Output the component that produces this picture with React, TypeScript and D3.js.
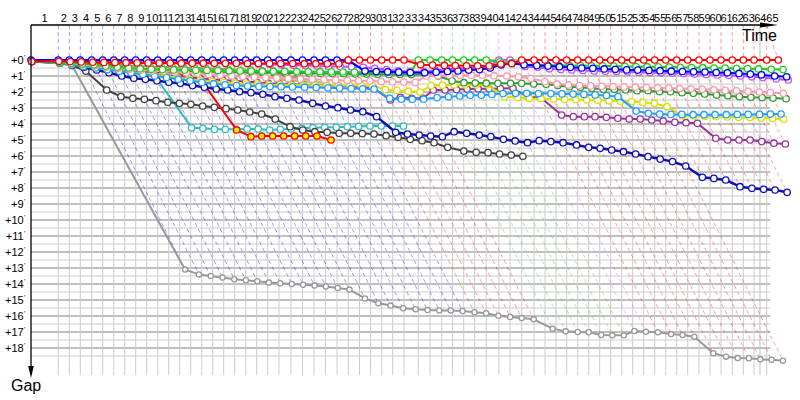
import React from "react";
import * as d3 from "d3";

// Leader crossing time (minutes from start) for each lap, index = lap
const lapTimes = [
  0, 3.41, 4.79, 6.16, 7.59, 8.96, 10.34, 11.71, 13.09, 14.46, 15.84,
  17.21, 18.59, 19.96, 21.34, 22.71, 24.09, 25.46, 26.84, 28.21, 29.59,
  31.0, 32.5, 33.94, 35.38, 36.81, 38.25, 39.66, 41.06, 42.44, 43.84,
  45.21, 46.63, 48.41, 49.88, 51.34, 52.69, 54.09, 55.46, 56.9, 58.48,
  59.88, 61.34, 62.88, 64.25, 65.63, 66.96, 68.34, 69.71, 71.09, 72.46,
  73.84, 75.21, 76.59, 77.96, 79.34, 80.71, 82.09, 83.5, 84.88, 86.25,
  87.66, 89.04, 90.38, 91.96, 93.41,
];
const lapLabels = [
  "1","2","3","4","5","6","7","8","9","10","11","12","13","14","15","16","17","18","19","20",
  "21","22","23","24","25","26","27","28","29","30","31","32","33","34","35","36","37","38","39","40",
  "41","42","43","44","45","46","47","48","49","50","51","52","53","54","55","56","57","58","59","60",
  "61","62","63","64","65",
];
const gapTicks = [0,1,2,3,4,5,6,7,8,9,10,11,12,13,14,15,16,17,18];
const timeLimit = 91.12;

// gap to leader (minutes) at each completed lap, index = lap
const gapsBlue = [0, 0,0,0,0,0, 0,0,0,0,0, 0,0,0,0,0, 0,0,0,0,0, 0,0,0,0,0, 0,0.02,0.69,0.72,0.74, 0.76,0.78,0.8,0.76,0.72, 0.68,0.63,0.6,0.5,0.3, 0.22,0.3,0.35,0.38,0.42, 0.46,0.5,0.52,0.56,0.58, 0.62,0.63,0.65,0.67,0.7, 0.72,0.74,0.75,0.78,0.8, 0.84,0.88,0.93,1.0,1.05];
const gapsRed = [0.1, 0.08,0.1,0.12,0.14,0.15, 0.16,0.17,0.18,0.18,0.19, 0.19,0.2,0.2,0.2,0.21, 0.21,0.21,0.22,0.22,0.22, 0.22,0.22,0.23,0.23,0.24, 0.24,0,0,0,0, 0,0,0.3,0.32,0.34, 0.35,0.36,0.36,0.37,0.25, 0.22,0,0,0,0, 0,0,0,0,0, 0,0,0,0,0, 0,0,0,0,0, 0,0,0,0,0];
const gapsGreen = [0.1, 0.15,0.2,0.25,0.3,0.38, 0.45,0.5,0.55,0.58,0.6, 0.62,0.63,0.64,0.65,0.66, 0.67,0.68,0.69,0.7,0.7, 0.71,0.72,0.72,0.73,0.74, 0.75,0.76,0.77,0.78,0.78, 0.79,0.8,0,0,0, 0,0,0,0,0.12, 0.18,0.28,0.3,0.32,0.33, 0.34,0.35,0.36,0.37,0.38, 0.4,0.41,0.42,0.43,0.44, 0.46,0.47,0.48,0.5,0.51, 0.53,0.54,0.56,0.58,0.6];
const gapsViolet = [0.1, 0.08,0.09,0.1,0.1,0.11, 0.11,0.12,0.12,0.13,0.13, 0.14,0.14,0.15,0.15,0.16, 0.17,0.19,0.22,0.25,0.28, 0.3,0.33,0.35,0.37,0.39, 0.4,0.42,0.46,0.52,0.6, 0.68,0.72,0.73,0.65,0.6, 0.55,0.5,0.45,0.4,0, 0,0.4,0.45,0.55,0.6, 0.62,0.65,0.68,0.7,0.72, 0.74,0.76,0.78,0.8,0.82, 0.85,0.88,0.9,0.93,0.96, 1.0,1.05,1.1,1.18,1.25];
const gapsPink = [0.1, 0.15,0.22,0.3,0.38,0.45, 0.52,0.58,0.63,0.67,0.71, 0.75,0.8,0.85,0.9,0.95, 1.0,1.04,1.07,1.1,1.13, 1.16,1.19,1.21,1.24,1.26, 1.28,1.3,1.32,1.34,1.36, 1.38,1.4,1.0,0.98,0.96, 0.95,0.95,0.96,0.98,1.0, 1.05,1.15,1.35,1.5,1.56, 1.6,1.62,1.64,1.66,1.68, 1.7,1.72,1.74,1.76,1.78, 1.8,1.83,1.86,1.9,1.93, 1.96,2.0,2.04,2.08];
const gapsDarkGreen = [0.1, 0.15,0.2,0.28,0.35,0.42, 0.5,0.55,0.6,0.64,0.68, 0.7,0.72,0.74,0.75,0.76, 0.77,0.78,0.79,0.8,0.8, 0.81,0.82,0.83,0.84,0.85, 0.86,0.87,0.88,0.89,0.9, 0.9,0.91,0.92,1.0,1.3, 1.42,1.44,1.45,1.46,1.46, 1.46,1.5,1.52,1.6,1.67, 1.71,1.77,1.83,1.83,1.87, 1.92,1.92,1.98,1.98,2.04, 2.08,2.12,2.19,2.23,2.29, 2.33,2.35,2.38,2.42];
const gapsSky = [0.1, 0.2,0.3,0.4,0.5,0.6, 0.7,0.8,0.9,1.0,1.1, 1.2,1.3,1.4,1.48,1.55, 1.6,1.63,1.65,1.66,1.67, 1.68,1.7,1.72,1.74,1.76, 1.78,1.8,1.82,2.4,2.45, 2.45,2.45,2.35,2.3,2.25, 2.2,2.2,2.15,2.1,2.08, 2.08,2.1,2.1,2.12,2.13, 2.15,2.18,2.22,2.29,3.19, 3.33,3.38,3.4,3.4,3.42, 3.42,3.42,3.42,3.4,3.4, 3.4,3.38,3.375];
const gapsYellow = [0.1, 0.15,0.25,0.35,0.45,0.55, 0.65,0.75,0.85,0.92,1.0, 1.1,1.2,1.28,1.35,1.4, 1.45,1.5,1.52,1.55,1.56, 1.57,1.58,1.58,1.59,1.6, 1.6,1.6,1.6,1.85,1.9, 1.95,2.0,1.6,1.58,1.56, 1.56,1.56,1.55,2.29,2.35, 2.4,2.42,2.44,2.46,2.48, 2.5,2.52,2.55,2.58,2.6, 2.65,2.7,2.92,3.48,3.5, 3.52,3.54,3.56,3.58,3.6, 3.62,3.65,3.7];
const gapsPurple = [0.1, 0.15,0.25,0.35,0.45,0.55, 0.65,0.72,0.8,0.88,0.95, 1.02,1.08,1.14,1.2,1.25, 1.3,1.35,1.4,1.45,1.5, 1.52,1.55,1.58,1.6,1.63, 1.66,1.7,1.77,2.5,2.33, 2.39,2.39,1.875,1.875,1.85, 1.82,1.8,1.8,1.78,1.77, 2.33,2.33,3.44,3.54,3.54, 3.54,3.58,3.64,3.69,3.69, 3.75,3.81,3.89,3.92,3.96, 4.89,5.0,5.0,5.0,5.1, 5.2,5.25];
const gapsNavy = [0.1, 0.12,0.25,0.45,0.625,0.79, 1.0,1.14,1.21,1.29,1.39, 1.46,1.6,1.71,1.81,1.875, 1.98,2.04,2.14,2.29,2.39, 2.5,2.71,2.875,2.98,3.125, 3.23,3.54,4.52,4.625,4.69, 4.75,4.79,4.48,4.58,4.69, 4.79,4.96,5.06,5.17,5.04, 5.1,5.17,5.31,5.46,5.52, 5.625,5.73,5.875,6.04,6.19, 6.35,6.625,7.33,7.4,7.5, 7.92,8.02,8.08,8.125,8.27];
const gapsBlack = [0.1, 0.2,0.35,0.69,1.875,2.29, 2.39,2.46,2.54,2.64,2.71, 2.77,2.875,2.96,3.04,3.125, 3.25,3.375,3.69,4.17,4.375, 4.48,4.52,4.58,4.58,4.6, 4.625,4.73,4.83,4.96,5.04, 5.17,5.46,5.69,5.77,5.79, 5.875,5.94,6.02];
const gapsCyan = [0.1, 0.15,0.25,0.35,0.45,0.55, 0.65,0.75,0.85,0.94,4.23, 4.27,4.33,4.33,4.33,4.31, 4.31,4.375,4.33,4.31,4.27, 4.23,4.21,4.21,4.17,4.15, 4.125,4.125,4.125,4.125];
const gapsRedYellow = [0.1, 0.17,0.17,0.17,0.2,0.25, 0.31,0.67,0.69,0.73,0.77, 0.79,1.08,1.2,4.375,4.79, 4.75,4.75,4.75,4.75,4.75, 4.75,5.0];
const gapsGray = [0.1, 0.12,0.35,13.1,13.4,13.5, 13.6,13.7,13.77,13.83,13.9, 13.95,14.0,14.05,14.1,14.15, 14.25,14.35,14.9,15.2,15.35, 15.52,15.58,15.63,15.65,15.65, 15.69,15.77,15.83,15.98,16.06, 16.13,16.21,16.79,16.96,17.0, 17.02,17.19,17.21,17.21,16.94, 16.98,17.02,17.13,17.19,17.29, 18.33,18.54,18.63,18.64,18.71, 18.73,18.79];
const gapsOlive = [0.1, 0.1,0.12,0.15,0.2,0.25, 0.3,0.35,0.38,0.4,0.43, 0.45,0.48,0.5,0.52,0.55, 0.58,0.6,0.62,0.7,0.85, 1.0,1.15,1.25];
const gapsLime = [0.1, 0.1,0.1,0.1,0.1,0.1, 0.1,0.1,0.1,0.1,0.11, 0.11,0.12,0.12,0.13,0.14, 0.15,0.4,0.8,1.05,1.2, 1.28,1.33,1.37,1.4];

const cars = [
  { name: "gray", color: "#999999", fill: "#ffffff", r: 2.6, w: 2, gaps: gapsGray },
  { name: "olive", color: "#a09868", fill: "#ffffff", r: 3.2, w: 2, gaps: gapsOlive },
  { name: "lime", color: "#9acd5a", fill: "#ffffff", r: 3.2, w: 2, gaps: gapsLime },
  { name: "cyan", color: "#33bbbb", fill: "#ffffff", r: 3.2, w: 2, gaps: gapsCyan },
  { name: "black", color: "#404040", fill: "#ffffff", r: 3.2, w: 2, gaps: gapsBlack },
  { name: "redyellow", color: "#ff0000", fill: "#ffee00", r: 3.2, w: 2, gaps: gapsRedYellow },
  { name: "navy", color: "#1010b0", fill: "#ffffff", r: 3.2, w: 2.5, gaps: gapsNavy },
  { name: "purple", color: "#993399", fill: "#ffffff", r: 3.2, w: 2, gaps: gapsPurple },
  { name: "yellow", color: "#dddd00", fill: "#ffffff", r: 3.2, w: 2, gaps: gapsYellow },
  { name: "sky", color: "#1e9fff", fill: "#ffffff", r: 3.2, w: 2, gaps: gapsSky },
  { name: "darkgreen", color: "#339933", fill: "#ffffff", r: 3.2, w: 2, gaps: gapsDarkGreen },
  { name: "pink", color: "#ff99aa", fill: "#ffffff", r: 3.2, w: 2, gaps: gapsPink },
  { name: "violet", color: "#c050ff", fill: "#ffffff", r: 3.2, w: 2, gaps: gapsViolet },
  { name: "green", color: "#22cc22", fill: "#ffffff", r: 3.2, w: 2, gaps: gapsGreen },
  { name: "blue", color: "#0000ff", fill: "#ffffff", r: 3.2, w: 2, gaps: gapsBlue },
  { name: "red", color: "#ff0000", fill: "#ffffff", r: 3.2, w: 2, gaps: gapsRed },
];

const W = 800, H = 400;
const AXIS_X = 31, AXIS_Y = 25;

export default function App() {
  const x = d3.scaleLinear().domain([0, 100]).range([AXIS_X, AXIS_X + 800]);
  const y = d3.scaleLinear().domain([0, 20]).range([60, 380]);
  const gridEndT = 92.4;
  const gridBottomGap = 19.7;
  const nLaps = lapTimes.length - 1;

  const lapInfo = d3.range(1, nLaps + 1).map((k) => {
    let best = null as any;
    let maxGap = 0;
    cars.forEach((c) => {
      if (c.gaps.length > k) {
        const g = c.gaps[k];
        if (best === null || g < best.g) best = { g, c };
        if (g > maxGap) maxGap = g;
      }
    });
    return { k, color: best ? best.c.color : "#999", maxGap };
  });

  const hLines = d3.range(0, 18.51, 0.5);
  const line = d3.line<[number, number]>().x((d) => d[0]).y((d) => d[1]);

  return (
    <svg width={W} height={H} style={{ display: "block", position: "absolute", left: 0, top: 0 }}
      fontFamily="'Liberation Sans', Arial, sans-serif">
      <rect width={W} height={H} fill="#ffffff" />
      {hLines.map((g) => (
        <line key={"h" + g} x1={AXIS_X} x2={x(gridEndT)} y1={y(g)} y2={y(g)}
          stroke={Number.isInteger(g) ? "#808080" : "#cccccc"} strokeWidth={1} />
      ))}
      {lapTimes.slice(1, nLaps).map((t, i) => (
        <line key={"v" + i} x1={x(t)} x2={x(t)} y1={y(0)} y2={y(gridBottomGap)} stroke="#cccccc" strokeWidth={1} />
      ))}
      <line x1={x(timeLimit)} x2={x(timeLimit)} y1={AXIS_Y} y2={y(gridBottomGap)} stroke="#bbbbbb" strokeWidth={1} />
      {lapInfo.map(({ k, color, maxGap }) => {
        const t = lapTimes[k];
        const top: [number, number] = k === nLaps ? [x(lapTimes[k - 1]), AXIS_Y] : [x(t), AXIS_Y];
        const pts: [number, number][] = [top, [x(t), y(0)], [x(t + maxGap), y(maxGap)]];
        return (
          <path key={"d" + k} d={line(pts) || ""} fill="none" stroke={color} strokeOpacity={0.38}
            strokeWidth={1} strokeDasharray="4,3" />
        );
      })}
      {cars.map((c) => {
        const pts: [number, number][] = c.gaps.map((g, k) => [x(lapTimes[k] + g), y(g)]);
        return (
          <g key={c.name}>
            <path d={line(pts) || ""} fill="none" stroke={c.color} strokeWidth={c.w} strokeLinejoin="round" />
            {pts.map((p, i) => (
              <circle key={i} cx={p[0]} cy={p[1]} r={c.r} fill={c.fill} stroke={c.color} strokeWidth={1.3} />
            ))}
          </g>
        );
      })}
      <line x1={AXIS_X} x2={766} y1={AXIS_Y} y2={AXIS_Y} stroke="#000" strokeWidth={1.3} />
      <path d={`M760,${AXIS_Y - 2.6} L778,${AXIS_Y} L760,${AXIS_Y + 2.6} Z`} fill="#000" />
      <line x1={AXIS_X} x2={AXIS_X} y1={AXIS_Y} y2={370} stroke="#000" strokeWidth={1.3} />
      <path d={`M${AXIS_X - 2.8},366 L${AXIS_X},378 L${AXIS_X + 2.8},366 Z`} fill="#000" />
      {lapLabels.map((lab, i) => (
        <text key={"l" + i} x={(x(lapTimes[i]) + x(lapTimes[i + 1])) / 2} y={22} textAnchor="middle" fontSize={11}>
          {lab}
        </text>
      ))}
      {gapTicks.map((g) => (
        <text key={"g" + g} x={25} y={y(g) + 4} textAnchor="end" fontSize={11}>
          {"+" + g}
          <tspan fontSize={7} dy={-4}>'</tspan>
        </text>
      ))}
      <text x={777} y={41} textAnchor="end" fontSize={16}>Time</text>
      <text x={11} y={391} fontSize={16}>Gap</text>
    </svg>
  );
}
